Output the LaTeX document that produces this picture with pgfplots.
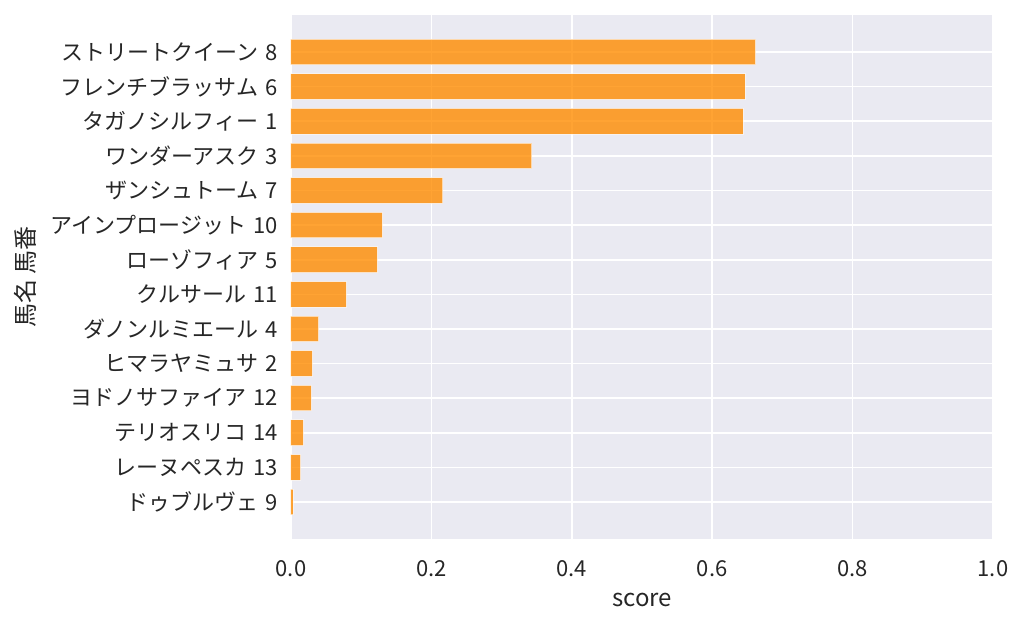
\documentclass[border=0pt]{standalone}
\usepackage{fontspec}
\setmainfont{Noto Sans CJK JP}
\usepackage{pgfplots}
\pgfplotsset{compat=1.18}
\definecolor{bg}{HTML}{EAEAF2}
\definecolor{darkorange}{HTML}{FF8C00}
\definecolor{txt}{HTML}{262626}
\begin{document}
\begin{tikzpicture}
\path[use as bounding box] (-145.5pt,-44pt) rectangle (366.5pt,269.5pt);
\begin{axis}[
  at={(0,0)}, anchor=south west,
  scale only axis, width=351pt, height=262pt,
  xmin=0, xmax=1, ymin=-1.07, ymax=14.07, y dir=reverse,
  axis background/.style={fill=bg},
  axis line style={draw=none},
  major tick length=0pt,
  grid=major, major grid style={white, line width=0.8pt},
  xtick={0,0.2,0.4,0.6,0.8,1.0},
  xticklabel={\pgfmathprintnumber[fixed,fixed zerofill,precision=1]{\tick}},
  ytick={0,...,13},
  yticklabels={ストリートクイーン\,\,8,フレンチブラッサム\,\,6,タガノシルフィー\,\,1,ワンダーアスク\,\,3,ザンシュトーム\,\,7,アインプロージット\,\,10,ローゾフィア\,\,5,クルサール\,\,11,ダノンルミエール\,\,4,ヒマラヤミュサ\,\,2,ヨドノサファイア\,\,12,テリオスリコ\,\,14,レーヌペスカ\,\,13,ドゥブルヴェ\,\,9},
  tick label style={font=\fontsize{11}{13}\selectfont, text=txt},
  yticklabel style={xshift=-3pt},
  xticklabel style={yshift=-7pt},
  /pgf/number format/assume math mode=true,
  xlabel={score}, ylabel={馬名 馬番},
  every axis x label/.style={at={(axis description cs:0.5,-0.1164)}, anchor=center, font=\fontsize{12}{14}\selectfont, text=txt},
  every axis y label/.style={at={(axis description cs:-0.379,0.5)}, rotate=90, anchor=center, font=\fontsize{12}{14}\selectfont, text=txt},
  xbar, bar width=0.74, bar shift=0pt,
]
\addplot[fill=darkorange, fill opacity=0.8, draw=white, draw opacity=0.6, line width=0.5pt] coordinates {
  (0.662,0) (0.647,1) (0.644,2) (0.343,3) (0.2165,4) (0.130,5) (0.123,6)
  (0.0788,7) (0.0394,8) (0.0304,9) (0.029,10) (0.0176,11) (0.0138,12) (0.003,13)
};
\end{axis}
\end{tikzpicture}
\end{document}
